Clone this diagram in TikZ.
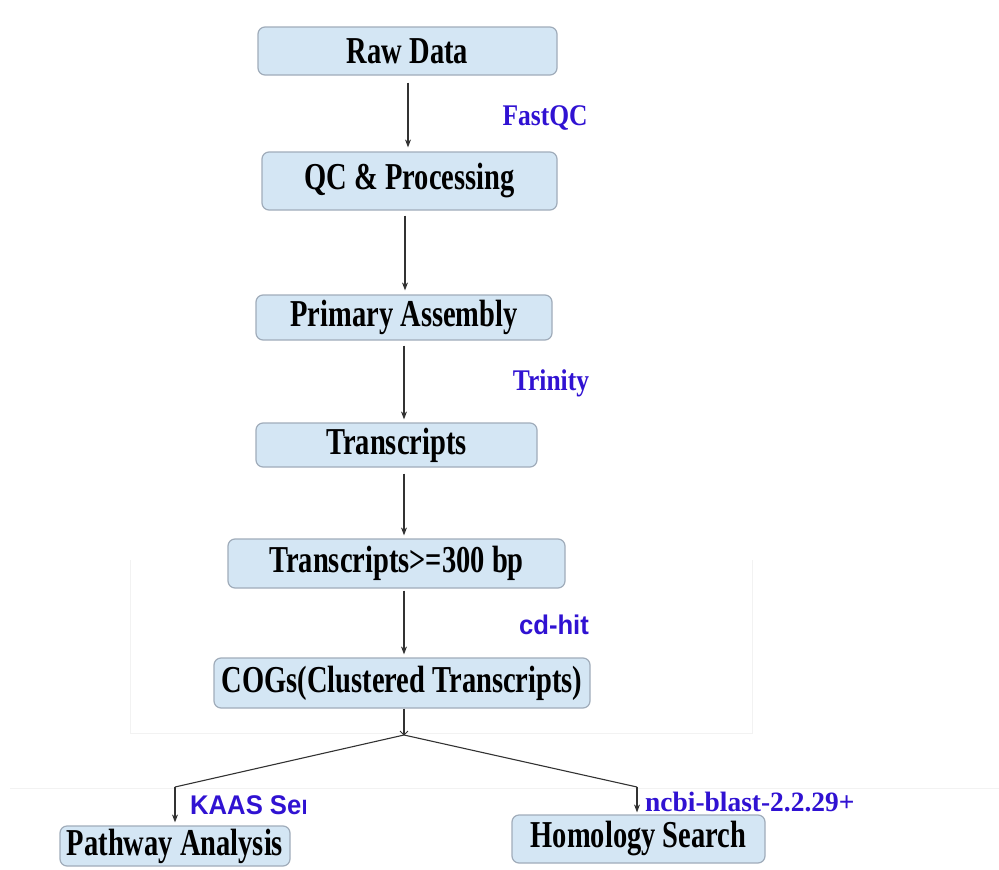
\documentclass[tikz,border=0pt]{standalone}
\usepackage{fontspec}
\usetikzlibrary{arrows.meta}
\newfontfamily\boxfont{Liberation Serif}[FakeStretch=0.75]
\newfontfamily\labserif{Liberation Serif}[FakeStretch=0.85]
\newfontfamily\labserifw{Liberation Serif}[FakeStretch=0.98]
\newfontfamily\labsans{Liberation Sans}[FakeStretch=0.95]
\definecolor{boxfill}{RGB}{212,230,244}
\definecolor{boxline}{RGB}{160,172,186}
\definecolor{labblue}{RGB}{48,18,210}
\definecolor{arrgray}{RGB}{50,50,50}
\definecolor{faint}{RGB}{242,242,242}
\tikzset{
  stepbox/.style={draw=boxline, line width=1.2pt, fill=boxfill, rounded corners=7pt,
    inner sep=0pt, font=\boxfont\bfseries\fontsize{38}{40}\selectfont, text=black},
  arr/.style={draw=arrgray, line width=1.1pt, -{Stealth[length=8pt,width=6pt]}},
  conn/.style={draw=arrgray, line width=1.1pt},
  toollab/.style={text=labblue, inner sep=0pt},
}
\begin{document}
\begin{tikzpicture}[x=1pt,y=-1pt]
\useasboundingbox (0,0) rectangle (999,870);
% faint background traces
\draw[faint, line width=0.8pt] (130,560) -- (130,733) -- (752,733) -- (752,560);
\draw[faint, line width=0.8pt] (10,788) -- (999,788);
% boxes
\node[stepbox, minimum width=299pt, minimum height=48pt] (raw) at (407.5,51) {Raw Data};
\node[stepbox, minimum width=295pt, minimum height=58pt] (qc) at (409.5,181) {QC \& Processing};
\node[stepbox, minimum width=296pt, minimum height=45pt] (pa) at (404,317.5) {Primary Assembly};
\node[stepbox, minimum width=281pt, minimum height=44pt] (tr) at (396.5,445) {Transcripts};
\node[stepbox, minimum width=337pt, minimum height=49pt] (t300) at (396.5,563.5) {Transcripts>=300 bp};
\node[stepbox, minimum width=376pt, minimum height=50pt] (cogs) at (402,683) {COGs(Clustered Transcripts)};
\node[stepbox, minimum width=230pt, minimum height=40pt] (path) at (175,846) {Pathway Analysis};
\node[stepbox, minimum width=253pt, minimum height=48pt] (hom) at (638.5,839) {Homology Search};
% connector columns
\coordinate (c1) at (408,0);
\coordinate (c2) at (405,0);
\coordinate (c3) at (404,0);
\draw[arr, shorten <=7pt, shorten >=4pt] (c1 |- raw.south) -- (c1 |- qc.north);
\draw[arr, shorten <=5pt, shorten >=4pt] (c2 |- qc.south) -- (c2 |- pa.north);
\draw[arr, shorten <=5pt, shorten >=3pt] (c3 |- pa.south) -- (c3 |- tr.north);
\draw[arr, shorten <=6pt, shorten >=3pt] (c3 |- tr.south) -- (c3 |- t300.north);
\draw[arr, shorten <=2pt, shorten >=3pt] (c3 |- t300.south) -- (c3 |- cogs.north);
% split
\coordinate (split) at (404,735);
\coordinate (lb) at (175,787);
\coordinate (rb) at (637,787);
\draw[conn] (c3 |- cogs.south) -- (split);
\draw[draw=arrgray, line width=0.8pt] (400,731) -- (404,735) -- (408,731);
\draw[conn] (split) -- (lb);
\draw[conn] (split) -- (rb);
\draw[arr, shorten >=3pt] (lb) -- (lb |- path.north);
\draw[arr, shorten >=2pt] (rb) -- (rb |- hom.north);
% tool labels
\node[toollab, font=\labserif\bfseries\fontsize{30}{32}\selectfont] (fastqc) at (545,118) {FastQC};
\node[toollab, font=\labserif\bfseries\fontsize{30}{32}\selectfont] (trinity) at (551,383) {Trinity};
\node[toollab, font=\labsans\bfseries\fontsize{27}{29}\selectfont] (cdhit) at (554,625) {cd-hit};
\begin{scope}
\clip (150,770) rectangle (305,830);
\node[toollab, anchor=west, font=\labsans\bfseries\fontsize{27}{29}\selectfont] (kaas) at (190,805) {KAAS Ser};
\end{scope}
\node[toollab, anchor=west, font=\labserifw\bfseries\fontsize{28}{30}\selectfont] (ncbi) at (645,802) {ncbi-blast-2.2.29+};
\end{tikzpicture}
\end{document}
